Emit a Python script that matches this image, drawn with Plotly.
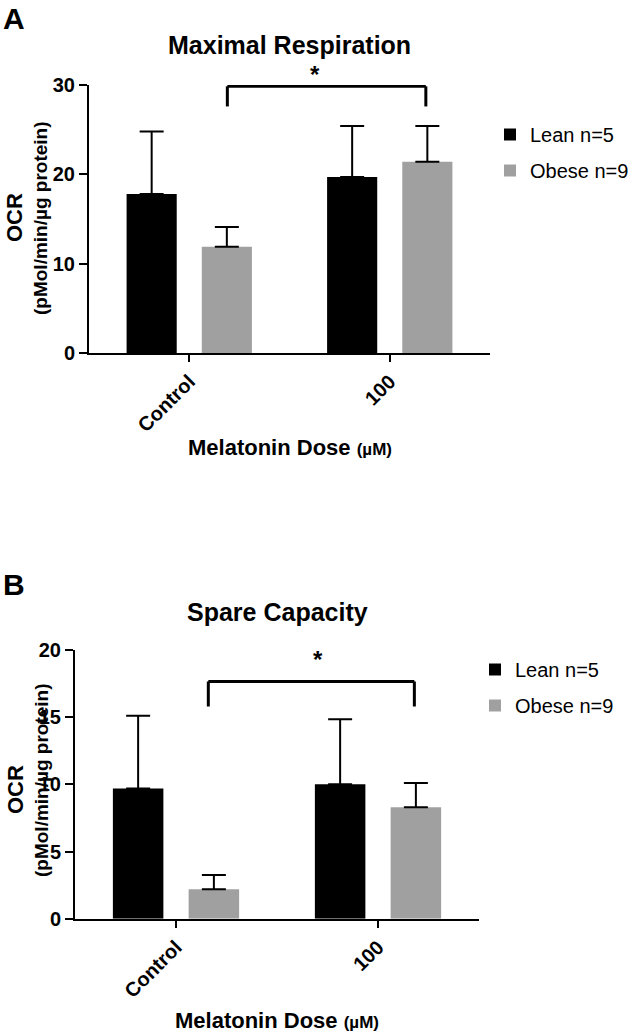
import plotly.graph_objects as go

W, H = 640, 1035
FONT = "Liberation Sans, Arial, sans-serif"

# ---- data ----
categories = ["Control", "100"]
series_names = ["Lean n=5", "Obese n=9"]

max_lean = [17.8, 19.7]
max_lean_sd = [7.0, 5.7]
max_obese = [11.9, 21.4]
max_obese_sd = [2.2, 4.0]

spare_lean = [9.7, 10.0]
spare_lean_sd = [5.4, 4.85]
spare_obese = [2.2, 8.3]
spare_obese_sd = [1.05, 1.8]

colors = ["#000000", "#A0A0A0"]
yticks_a = [0, 10, 20, 30]
yticks_b = [0, 5, 10, 15, 20]


def px(x):
    return x / W


def py(y):
    return 1 - y / H


fig = go.Figure()


def add_bars(vals, sds, name, color, xa, ya, legend):
    fig.add_trace(go.Bar(
        x=categories, y=vals, name=name, marker=dict(color=color, line=dict(width=0)),
        error_y=dict(type="data", array=sds, arrayminus=[0] * len(sds), symmetric=False,
                     color="#000000", thickness=2, width=12),
        xaxis=xa, yaxis=ya, legend=legend, legendgroup=legend + name, showlegend=True,
    ))


add_bars(max_lean, max_lean_sd, series_names[0], colors[0], "x", "y", "legend")
add_bars(max_obese, max_obese_sd, series_names[1], colors[1], "x", "y", "legend")
add_bars(spare_lean, spare_lean_sd, series_names[0], colors[0], "x2", "y2", "legend2")
add_bars(spare_obese, spare_obese_sd, series_names[1], colors[1], "x2", "y2", "legend2")

axis_common = dict(showline=True, linecolor="black", linewidth=2, ticks="outside",
                   tickwidth=2, tickcolor="black", showgrid=False, zeroline=False,
                   automargin=False,
                   tickfont=dict(family=FONT, size=20, color="black", weight="bold"))

fig.update_layout(
    width=W, height=H, margin=dict(l=0, r=0, t=0, b=0, autoexpand=False),
    paper_bgcolor="white", plot_bgcolor="white",
    barmode="group", bargap=0.25, bargroupgap=1 / 3,
    showlegend=True,
    xaxis=dict(domain=[px(89), px(490)], anchor="y", tickangle=-45, ticklen=7,
               range=[-0.5, 1.5], **axis_common),
    yaxis=dict(domain=[py(353), py(85)], anchor="x", range=[0, 30], tickvals=yticks_a,
               ticklen=8, **axis_common),
    xaxis2=dict(domain=[px(75), px(479)], anchor="y2", tickangle=-45, ticklen=7,
                range=[-0.5, 1.5], **axis_common),
    yaxis2=dict(domain=[py(918.7), py(650)], anchor="x2", range=[0, 20], tickvals=yticks_b,
                ticklen=8, **axis_common),
    legend=dict(x=px(490), y=py(115), xanchor="left", yanchor="top", tracegroupgap=7,
                font=dict(family=FONT, size=20, color="black"), bgcolor="rgba(0,0,0,0)"),
    legend2=dict(x=px(475), y=py(650), xanchor="left", yanchor="top", tracegroupgap=7,
                 font=dict(family=FONT, size=20, color="black"), bgcolor="rgba(0,0,0,0)"),
)

# significance brackets
for xr, yr, x0, x1, ytop, ybot in [("x", "y", 0.19, 1.18, 29.85, 27.6),
                                  ("x2", "y2", 0.16, 1.18, 17.65, 15.8)]:
    fig.add_shape(type="line", xref=xr, yref=yr, x0=x0, x1=x1, y0=ytop, y1=ytop,
                  line=dict(color="black", width=3))
    fig.add_shape(type="line", xref=xr, yref=yr, x0=x0, x1=x0, y0=ytop, y1=ybot,
                  line=dict(color="black", width=3))
    fig.add_shape(type="line", xref=xr, yref=yr, x0=x1, x1=x1, y0=ytop, y1=ybot,
                  line=dict(color="black", width=3))


def ann(text, x, y, size, bold=True, angle=0, yanchor="middle", xanchor="center"):
    fig.add_annotation(text=text, xref="paper", yref="paper", x=px(x), y=py(y),
                       showarrow=False, textangle=angle, xanchor=xanchor, yanchor=yanchor,
                       font=dict(family=FONT, size=size, color="black",
                                 weight="bold" if bold else "normal"))


# significance stars
ann("*", 315, 74, 24)
ann("*", 318, 659, 24)

# panel letters and titles
ann("A", 1, 0, 30, yanchor="top", xanchor="left")
ann("B", 1, 566, 30, yanchor="top", xanchor="left")
ann("Maximal Respiration", 289, 45, 25)
ann("Spare Capacity", 277, 612, 25)

# y-axis titles
ann("OCR", 15, 218, 22, angle=-90)
ann("(pMol/min/µg protein)", 41, 218, 19, angle=-90)
ann("OCR", 15, 790, 22, angle=-90)
ann("(pMol/min/µg protein)", 41, 780, 19, angle=-90)

# x-axis titles
xt = "Melatonin Dose <span style='font-size:17px'>(µM)</span>"
ann(xt, 290, 448, 22)
ann(xt, 277, 1035, 22, yanchor="bottom")

fig.write_html("out.html", config={"displayModeBar": False},
               post_script="document.body.style.margin='0';document.body.style.padding='0';")
